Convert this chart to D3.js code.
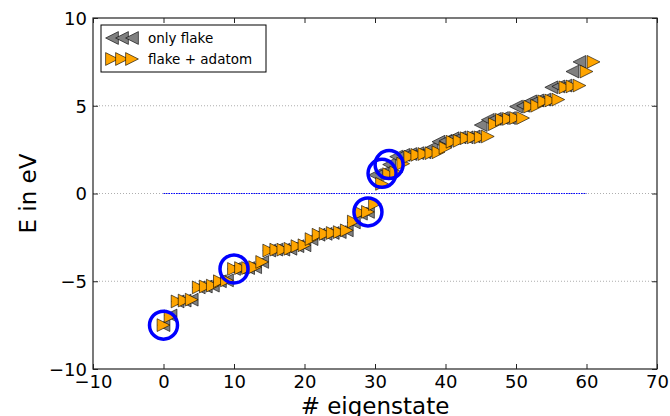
<!DOCTYPE html>
<html>
<head>
<meta charset="utf-8">
<script src="https://cdn.jsdelivr.net/npm/d3@7"></script>
<style>
  body { margin: 0; background: #fff; }
  svg { display: block; }
  text { font-family: "DejaVu Sans", sans-serif; fill: #000; }
</style>
</head>
<body>
<svg id="chart" width="670" height="416"></svg>
<script>
// Energy levels (eV) sorted by eigenstate index
const onlyFlake = [
  -7.5, -6.95, -6.15, -6.1, -6.05, -5.35, -5.3, -5.25, -5.0, -4.95,
  -4.3, -4.3, -4.25, -4.2, -3.9, -3.25, -3.2, -3.2, -3.15, -3.0,
  -2.95, -2.6, -2.35, -2.3, -2.25, -2.2, -2.1, -1.65, -1.15, -1.05,
  1.05, 1.15, 1.65, 2.1, 2.2, 2.25, 2.3, 2.35, 2.6, 2.95,
  3.0, 3.15, 3.2, 3.2, 3.25, 3.9, 4.2, 4.25, 4.3, 4.3,
  4.95, 5.0, 5.25, 5.3, 5.35, 6.05, 6.1, 6.15, 6.95, 7.5
];
const flakeAdatom = [
  -7.5, -7.0, -6.15, -6.1, -6.05, -5.35, -5.3, -5.25, -5.0, -4.95,
  -4.3, -4.25, -4.25, -4.2, -3.9, -3.25, -3.2, -3.2, -3.15, -3.0,
  -2.95, -2.6, -2.35, -2.3, -2.25, -2.2, -2.1, -1.6, -1.1, -1.05,
  -0.6, 0.55,
  1.1, 1.2, 1.7, 2.1, 2.2, 2.25, 2.3, 2.35, 2.6, 2.95,
  3.0, 3.15, 3.2, 3.2, 3.25, 3.95, 4.2, 4.25, 4.3, 4.3,
  4.95, 5.0, 5.25, 5.3, 5.35, 6.05, 6.1, 6.15, 6.95, 7.5
];
// Flake eigenstates singled out with a ring
const markedStates = [0, 10, 29, 31, 32];

const xTicks = [-10, 0, 10, 20, 30, 40, 50, 60, 70];
const yTicks = [-10, -5, 0, 5, 10];
const gridLevels = [-5, 0, 5];
const fermiSpan = [0, 60];
const seriesNames = ["only flake", "flake + adatom"];
const xTitle = "# eigenstate";
const yTitle = "E in eV";

const W = 670, H = 416;
const margin = { left: 93, right: 13, top: 18, bottom: 47 };
const svg = d3.select("#chart");

const x = d3.scaleLinear().domain([-10, 70]).range([margin.left, W - margin.right]);
const y = d3.scaleLinear().domain([-10, 10]).range([H - margin.bottom, margin.top]);

const ms = 6.4; // half marker size
const leftTri = `M${-ms},0L${ms},${-ms}L${ms},${ms}Z`;
const rightTri = `M${ms},0L${-ms},${-ms}L${-ms},${ms}Z`;

// horizontal dotted grid
svg.append("g").selectAll("line").data(gridLevels).join("line")
  .attr("x1", x(-10)).attr("x2", x(70))
  .attr("y1", d => y(d)).attr("y2", d => y(d))
  .attr("stroke", "#999").attr("stroke-width", 0.8)
  .attr("stroke-dasharray", "1,2");

// Fermi level
svg.append("line")
  .attr("x1", x(fermiSpan[0])).attr("x2", x(fermiSpan[1]))
  .attr("y1", y(0)).attr("y2", y(0))
  .attr("stroke", "#0000ff").attr("stroke-width", 1.2)
  .attr("stroke-dasharray", "1.5,1");

// only flake: grey left-pointing triangles
svg.append("g").selectAll("path").data(onlyFlake).join("path")
  .attr("d", leftTri)
  .attr("transform", (d, i) => `translate(${x(i)},${y(d)})`)
  .attr("fill", "#808080").attr("stroke", "#000").attr("stroke-width", 0.6);

// flake + adatom: orange right-pointing triangles
svg.append("g").selectAll("path").data(flakeAdatom).join("path")
  .attr("d", rightTri)
  .attr("transform", (d, i) => `translate(${x(i)},${y(d)})`)
  .attr("fill", "#ffa500").attr("stroke", "#000").attr("stroke-width", 0.6);

// rings
svg.append("g").selectAll("circle").data(markedStates).join("circle")
  .attr("cx", i => x(i)).attr("cy", i => y(onlyFlake[i]))
  .attr("r", 14)
  .attr("fill", "none").attr("stroke", "#0000ff").attr("stroke-width", 3.5);

// frame
svg.append("rect")
  .attr("x", x(-10)).attr("y", y(10))
  .attr("width", x(70) - x(-10)).attr("height", y(-10) - y(10))
  .attr("fill", "none").attr("stroke", "#222").attr("stroke-width", 1.2);

// axes with inward ticks on all sides
const tickLen = 5;
const fs = 18;
const minus = d => d3.format("")(d).replace("-", "\u2212");
const xb = svg.append("g").attr("transform", `translate(0,${y(-10)})`)
  .call(d3.axisBottom(x).tickValues(xTicks).tickSize(-tickLen).tickPadding(8).tickFormat(minus));
const xt = svg.append("g").attr("transform", `translate(0,${y(10)})`)
  .call(d3.axisTop(x).tickValues(xTicks).tickSize(-tickLen).tickFormat(""));
const yl = svg.append("g").attr("transform", `translate(${x(-10)},0)`)
  .call(d3.axisLeft(y).tickValues(yTicks).tickSize(-tickLen).tickPadding(6).tickFormat(minus));
const yr = svg.append("g").attr("transform", `translate(${x(70)},0)`)
  .call(d3.axisRight(y).tickValues(yTicks).tickSize(-tickLen).tickFormat(""));
[xb, xt, yl, yr].forEach(g => {
  g.select(".domain").remove();
  g.selectAll(".tick line").attr("stroke", "#222").attr("stroke-width", 1);
  g.selectAll("text").attr("font-size", fs).attr("font-family", "DejaVu Sans").attr("fill", "#000");
});
xb.selectAll("text").attr("dy", "0.62em");
yl.selectAll("text").attr("dy", "0.36em");

// axis titles
svg.append("text").attr("x", x(30)).attr("y", 414)
  .attr("text-anchor", "middle").attr("font-size", 23).text(xTitle);
svg.append("text")
  .attr("transform", `translate(36,${y(0)}) rotate(-90)`)
  .attr("text-anchor", "middle").attr("font-size", 23).text(yTitle);

// legend
const lg = svg.append("g").attr("transform", "translate(101,25)");
lg.append("rect").attr("width", 165).attr("height", 47)
  .attr("fill", "#fff").attr("stroke", "#000").attr("stroke-width", 1);
const rows = [
  { name: seriesNames[0], d: leftTri, fill: "#808080", cy: 13 },
  { name: seriesNames[1], d: rightTri, fill: "#ffa500", cy: 34 }
];
rows.forEach(r => {
  [11, 21, 31].forEach(cx => {
    lg.append("path").attr("d", r.d).attr("transform", `translate(${cx},${r.cy})`)
      .attr("fill", r.fill).attr("stroke", "#000").attr("stroke-width", 0.6);
  });
  lg.append("text").attr("x", 47).attr("y", r.cy).attr("dy", "0.35em")
    .attr("font-size", 13.5).text(r.name);
});
</script>
</body>
</html>
